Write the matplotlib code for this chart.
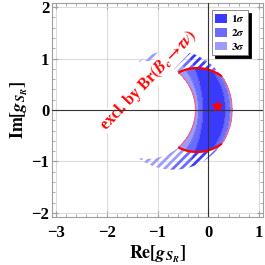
import numpy as np
import matplotlib
matplotlib.use("Agg")
import matplotlib.pyplot as plt
from matplotlib.patches import Patch

plt.rcParams['font.family'] = ['Liberation Serif', 'DejaVu Serif']
plt.rcParams['font.weight'] = 'bold'
plt.rcParams['mathtext.fontset'] = 'stix'
plt.rcParams['hatch.linewidth'] = 2.0

# ---- data ----
levels = ['1σ', '2σ', '3σ']
colors = ['#3a3aff', '#6b6bff', '#9c9cff']
# crescent k = inside outer circle and outside inner circle (centres on Re axis)
outer_center = [-0.95, -0.84, -0.69]
outer_radius = [1.29, 1.27, 1.16]
inner_center = [-2.20, -1.52, -1.20]
inner_radius = [2.09, 1.33, 0.95]
# Br(Bc -> tau nu) allowed circle
br_center = -0.22
br_radius = 0.815
best_fit = (0.18, 0.07)
xticks = [-3, -2, -1, 0, 1]
yticks = [-2, -1, 0, 1, 2]
xlim = (-3.08, 1.08)
ylim = (-2.08, 2.08)

fig = plt.figure(figsize=(2.65, 2.65), dpi=100)
ax = fig.add_axes([52/265, 48/265, 211/265, 214/265])

x = np.linspace(xlim[0], xlim[1], 1200)
y = np.linspace(ylim[0], ylim[1], 1200)
X, Y = np.meshgrid(x, y)

lev = np.full(X.shape, 4.0)
prev = np.ones(X.shape, dtype=bool)
for k in [2, 1, 0]:
    inside = ((X - outer_center[k])**2 + Y**2 <= outer_radius[k]**2) & \
             ((X - inner_center[k])**2 + Y**2 >= inner_radius[k]**2) & prev
    lev[inside] = k + 1
    prev = inside
in_br = (X - br_center)**2 + Y**2 <= br_radius**2

solid = np.where(in_br, lev, 4.0)
hatched = np.where(~in_br, lev, 4.0)

ax.contourf(X, Y, solid, levels=[0.5, 1.5, 2.5, 3.5], colors=colors, zorder=2)
for k in [2, 1, 0]:
    with plt.rc_context({'hatch.color': colors[k]}):
        ax.contourf(X, Y, hatched, levels=[k + 0.5, k + 1.5], colors='none',
                    hatches=['////'], zorder=2)

# pink outline of the allowed region
ax.contour(X, Y, solid, levels=[3.5], colors=['#ff5a6e'], linewidths=0.9,
           alpha=0.8, zorder=3)
ax.contour(X, Y, solid, levels=[1.5, 2.5], colors=['#4848c8'], linewidths=0.5,
           alpha=0.6, zorder=3)
# red Br boundary inside the 3 sigma crescent
brfield = np.ma.masked_where(lev > 3.5, (X - br_center)**2 + Y**2 - br_radius**2)
ax.contour(X, Y, brfield, levels=[0], colors=['#ff0000'], linewidths=1.6, zorder=4)

ax.plot([best_fit[0]], [best_fit[1]], marker='*', color='#ff0000', ms=7,
        mec='#ff0000', zorder=6, ls='none')

ax.text(-1.17, 0.58, r'excl. by Br$(\mathbfit{B}_{\mathbfit{c}}\!\to\!\mathbfit{\tau\nu})$',
        color='#ff0000', fontsize=11.5, rotation=46, rotation_mode='anchor',
        ha='center', va='center', zorder=4.5,
        bbox=dict(facecolor='white', edgecolor='none', pad=0.2))

ax.axhline(0, color='#333333', lw=0.8, zorder=5)
ax.axvline(0, color='#333333', lw=0.8, zorder=5)

ax.set_xlim(*xlim)
ax.set_ylim(*ylim)
ax.set_xticks(xticks)
ax.set_yticks(yticks)
ax.set_xticks(np.arange(-3, 1.01, 0.2), minor=True)
ax.set_yticks(np.arange(-2, 2.01, 0.2), minor=True)
ax.grid(True, which='major', color='#dcdcdc', lw=0.8, zorder=0)
ax.set_axisbelow(True)
for s in ax.spines.values():
    s.set_color('#a0a0a0')
    s.set_linewidth(0.8)
ax.tick_params(which='both', direction='in', top=True, right=True,
               color='#a0a0a0', labelsize=12)
ax.tick_params(which='major', length=4)
ax.tick_params(which='minor', length=2)
ax.tick_params(axis='x', pad=6)
ax.tick_params(axis='y', pad=2)

ax.set_xlabel(r'$\mathbf{Re}[\mathbfit{g}_{\mathbfit{S}_{\mathbfit{R}}}]$',
              fontsize=13, labelpad=2)
ax.set_ylabel(r'$\mathbf{Im}[\mathbfit{g}_{\mathbfit{S}_{\mathbfit{R}}}]$',
              fontsize=13, labelpad=1)

handles = [Patch(facecolor=c, edgecolor='none') for c in colors]
leg = ax.legend(handles, [r'$1\sigma$', r'$2\sigma$', r'$3\sigma$'],
                loc='upper right', bbox_to_anchor=(0.93, 0.967),
                borderaxespad=0, fontsize=8, handlelength=1.1, handleheight=0.8,
                handletextpad=0.35, labelspacing=0.25, borderpad=0.3,
                fancybox=False, framealpha=1, edgecolor='#777777',
                shadow={'color': 'black', 'alpha': 1})
leg.get_frame().set_linewidth(0.6)
leg.set_zorder(8)

fig.savefig('out.png', dpi=100)
